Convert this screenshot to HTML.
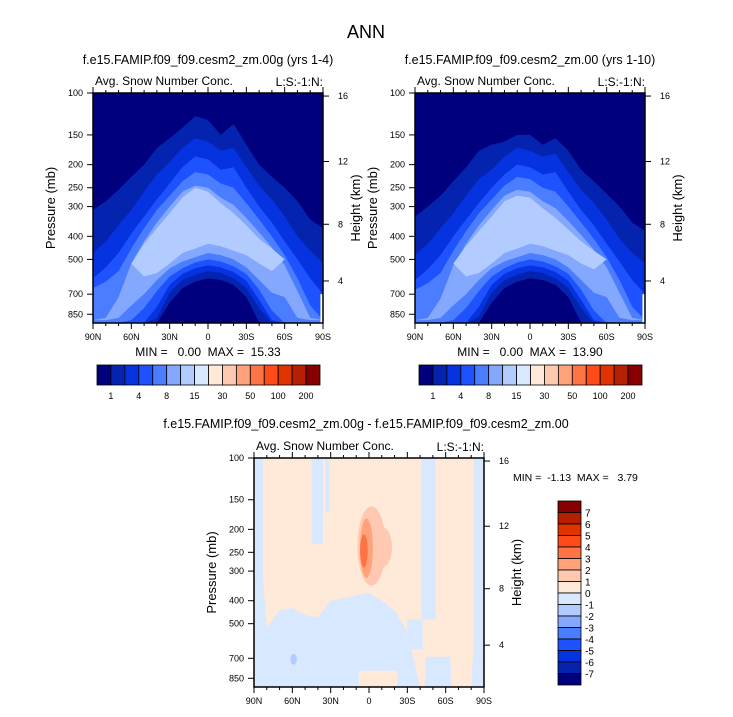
<!DOCTYPE html>
<html><head><meta charset="utf-8"><style>
body{margin:0;background:#fff;}
svg text{font-family:"Liberation Sans",sans-serif;fill:#000;white-space:pre;}
</style></head><body>
<svg id="chart" width="733" height="712" viewBox="0 0 733 712" xmlns="http://www.w3.org/2000/svg" xml:space="preserve">
<text x="366" y="38" font-size="18" text-anchor="middle">ANN</text>
<g id="root"></g>
</svg>
<script>
const lats = [90,80,70,60,50,40,30,20,10,0,-10,-20,-30,-40,-50,-60,-70,-80,-90];
const colors16 = ["#00007f","#0424b0","#0533df","#1f52ff","#4a7dff","#85a8ff","#b3ccff","#d8e8ff","#ffe9d9","#ffc8b0","#ffa27a","#ff7444","#ff4a1a","#e03300","#b42000","#870000"];
const levelLabelsTop = ["1","4","8","15","30","50","100","200"];
const levelLabelsDiff = ["7","6","5","4","3","2","1","0","-1","-2","-3","-4","-5","-6","-7"];
const pTicks = [100,150,200,250,300,400,500,700,850];
const hTicks = [16,12,8,4];
const hTickP = [103,194,356,616];
const latTickLabels = ["90N","60N","30N","0","30S","60S","90S"];
const latTickVals = [90,60,30,0,-30,-60,-90];
// left panel class boundaries (pressure, mb) per latitude
const L1T=[310,285,255,225,200,170,155,140,125,130,150,135,165,200,225,250,285,340,370];
const L1B=[1000,1000,1000,1000,1000,960,760,660,620,600,610,640,720,920,1000,1000,1000,1000,1000];
const L2T=[470,420,360,310,260,220,195,170,155,160,175,170,205,245,280,330,400,460,520];
const L2B=[1000,1000,1000,1000,1000,880,690,610,580,560,570,600,660,800,960,1000,1000,1000,1000];
const L3T=[600,540,470,390,330,280,240,205,185,190,210,205,250,300,350,420,500,600,700];
const L3B=[1000,1000,1000,1000,940,790,640,575,545,530,540,565,615,740,900,1000,1000,1000,1000];
const L4T=[660,620,560,450,370,310,270,235,215,220,240,250,290,340,400,480,600,780,900];
const L4B=[1000,1000,1000,900,800,680,590,545,515,500,510,535,575,670,820,940,1000,1000,1000];
const L5T=[900,880,720,520,420,350,300,260,245,250,275,295,335,385,445,530,680,880,900];
const L5B=[900,900,880,780,700,610,545,510,490,470,480,500,540,610,690,720,880,900,900];
const L6T=[520,520,520,520,430,370,320,275,250,260,290,320,360,410,450,500,500,500,500];
const L6B=[520,520,520,520,590,570,520,470,450,430,440,460,480,520,560,500,500,500,500];
// right panel
const R1T=[330,300,270,235,205,175,165,160,150,150,165,155,175,210,235,265,300,350,380];
const R1B=[1000,1000,1000,1000,1000,940,760,660,620,600,610,640,720,920,1000,1000,1000,1000,1000];
const R2T=[480,430,370,320,270,230,210,185,170,175,185,180,215,255,290,340,410,470,520];
const R2B=[1000,1000,1000,1000,1000,870,690,610,580,560,570,600,660,800,960,1000,1000,1000,1000];
const R3T=[610,550,480,400,340,290,250,220,200,205,220,215,260,310,360,430,510,610,700];
const R3B=[1000,1000,1000,1000,940,790,640,575,545,530,540,565,615,740,900,1000,1000,1000,1000];
const R4T=[670,630,570,460,380,320,280,245,225,230,250,260,300,350,410,490,610,790,900];
const R4B=[1000,1000,1000,900,800,680,590,545,515,500,510,535,575,670,820,940,1000,1000,1000];
const R5T=[900,880,730,530,430,360,310,270,255,260,285,305,345,395,455,540,690,880,900];
const R5B=[900,900,880,780,700,610,545,510,490,470,480,500,540,610,690,720,880,900,900];
const R6T=[520,520,520,520,440,380,330,285,270,275,305,335,375,420,460,500,500,500,500];
const R6B=[520,520,520,520,590,570,520,470,450,430,440,460,480,520,550,500,500,500,500];
// diff panel: light-blue band top boundary per latitude
const dBlueTop=[100,520,440,430,460,470,400,390,380,370,400,440,540,1000,1000,1000,1000,1000,100];
// rectangles: [latNorth, latSouth, pTop, pBottom, colorIndex]
const dPatches=[[90,83,100,520,7],[45,36,100,230,7],[34,31,100,170,7],[-41,-52,100,480,7],[-44,-64,690,1000,7],[-30,-42,480,640,7],[-82,-90,100,1000,7],[8,-22,790,1000,8]];
// blobs: [latCenter, pCenter, latHalfWidth, pTop, pBottom, colorIndex]
const dBlobs=[[-2,240,11,160,345,9],[-10,250,8,195,290,9],[2,245,5,180,320,10],[4,250,3,210,290,11],[59,700,2.5,670,745,6]];
const diffMin="-1.13", diffMax="3.79";

const NS='http://www.w3.org/2000/svg';
const root=document.getElementById('root');
function mk(tag,attrs,parent){const e=document.createElementNS(NS,tag);for(const k in attrs)e.setAttribute(k,attrs[k]);(parent||root).appendChild(e);return e;}
function txt(x,y,s,size,anchor,parent,extra){const t=mk('text',Object.assign({x:x,y:y,'font-size':size,'text-anchor':anchor||'start'},extra||{}),parent);t.textContent=s;return t;}

function panel(px,py,W,H,layers,title,mm,kind){
  const g=mk('g',{});
  
  
  const K=H/(Math.log(925)-Math.log(100));
  const xs=lat=>px+(90-lat)/180*W;
  const ys=p=>py+Math.min(H,Math.max(0,(Math.log(p)-Math.log(100))*K));
  const bg=mk('rect',{x:px,y:py,width:W,height:H,fill:kind==='diff'?colors16[8]:colors16[0]},g);
  
  
  if(kind!=='diff'){
    layers.forEach((L,i)=>{
      let pts=[];
      for(let j=0;j<lats.length;j++)pts.push(xs(lats[j])+','+ys(L[0][j]));
      for(let j=lats.length-1;j>=0;j--)pts.push(xs(lats[j])+','+ys(L[1][j]));
      const pg=mk('polygon',{points:pts.join(' '),fill:colors16[i+1]},g);
      
      
    });
    const miss=mk('rect',{x:xs(-88),y:ys(700),width:xs(-90)-xs(-88),height:py+H-ys(700),fill:'#fff'},g);
    
    
  } else {
    let pts=[];
    for(let j=0;j<lats.length;j++)pts.push(xs(lats[j])+','+ys(dBlueTop[j]));
    pts.push(xs(-90)+','+(py+H));pts.push(xs(90)+','+(py+H));
    const band=mk('polygon',{points:pts.join(' '),fill:colors16[7]},g);
    
    
    dPatches.forEach(d=>{
      const r=mk('rect',{x:xs(d[0]),y:ys(d[2]),width:xs(d[1])-xs(d[0]),height:ys(d[3])-ys(d[2]),fill:colors16[d[4]]},g);
      
      
    });
    dBlobs.forEach(b=>{
      const cy=(ys(b[3])+ys(b[4]))/2;
      const e=mk('ellipse',{cx:xs(b[0]),cy:cy,rx:xs(90-b[2])-xs(90),ry:(ys(b[4])-ys(b[3]))/2,fill:colors16[b[5]]},g);
      
      
    });
  }
  mk('rect',{x:px,y:py,width:W,height:H,fill:'none',stroke:'#000','stroke-width':1.5},g);
  for(let l=90;l>=-90;l-=10){const x=xs(l);const maj=l%30===0;
    mk('line',{x1:x,y1:py+H,x2:x,y2:py+H+(maj?6:3),stroke:'#000'},g);
    mk('line',{x1:x,y1:py,x2:x,y2:py-(maj?6:3),stroke:'#000'},g);}
  latTickVals.forEach((l,i)=>{const t=txt(xs(l),py+H+17,latTickLabels[i],9,'middle',g);
    });
  pTicks.forEach(p=>{const y=ys(p);mk('line',{x1:px,y1:y,x2:px-6,y2:y,stroke:'#000'},g);
    const t=txt(px-10,y+3,String(p),9,'end',g);
    });
  hTicks.forEach((h,i)=>{const y=ys(hTickP[i]);mk('line',{x1:px+W,y1:y,x2:px+W+6,y2:y,stroke:'#000'},g);
    const t=txt(px+W+15,y+3,String(h),9,'start',g);
    });
  const yt=txt(0,0,'Pressure (mb)',13,'middle',g,{transform:`translate(${px-38},${py+H/2}) rotate(-90)`});
  
  const ht=txt(0,0,'Height (km)',13,'middle',g,{transform:`translate(${px+W+37},${py+H/2}) rotate(-90)`});
  
  const st=txt(px+2,py-8,'Avg. Snow Number Conc.',12,'start',g);
  
  const lt=txt(px+W,py-7,'L:S:-1:N:',12,'end',g);
  
  if(title){const tt=txt(px+W/2,py-29,title,12.5,'middle',g);
    }
  if(mm){const m=txt(px+W/2,py+H+33,mm,12,'middle',g);
    }
}
function hbar(x,y,w,h){
  const g=mk('g',{});
  
  
  const bw=w/16;
  colors16.forEach((c,i)=>{const r=mk('rect',{x:x+i*bw,y:y,width:bw,height:h,fill:c,stroke:'#000','stroke-width':0.8},g);
    });
  levelLabelsTop.forEach((s,i)=>{const t=txt(x+(2*i+1)*bw,y+h+14,s,9,'middle',g);
    });
}
function vbar(x,y,w,h){
  const g=mk('g',{});
  
  
  const bh=h/16;
  for(let i=0;i<16;i++){const r=mk('rect',{x:x,y:y+i*bh,width:w,height:bh,fill:colors16[15-i],stroke:'#000','stroke-width':0.8},g);
    }
  levelLabelsDiff.forEach((s,i)=>{const t=txt(x+w+4,y+(i+1)*bh+4,s,10,'start',g);
    });
}
panel(93,93,230,230,[[L1T,L1B],[L2T,L2B],[L3T,L3B],[L4T,L4B],[L5T,L5B],[L6T,L6B]],'f.e15.FAMIP.f09_f09.cesm2_zm.00g (yrs 1-4)','MIN =   0.00  MAX =  15.33','abs');
panel(415,93,230,230,[[R1T,R1B],[R2T,R2B],[R3T,R3B],[R4T,R4B],[R5T,R5B],[R6T,R6B]],'f.e15.FAMIP.f09_f09.cesm2_zm.00 (yrs 1-10)','MIN =   0.00  MAX =  13.90','abs');
hbar(97,365,223,20);
hbar(419,365,223,20);
panel(254,458,230,229,[],null,null,'diff');
const dt=txt(366,428,'f.e15.FAMIP.f09_f09.cesm2_zm.00g - f.e15.FAMIP.f09_f09.cesm2_zm.00',12.5,'middle');

const dm=txt(513,481,'MIN =  '+diffMin+'  MAX =   '+diffMax,10.5,'start');

vbar(558,501,23,184);
</script>
</body></html>
